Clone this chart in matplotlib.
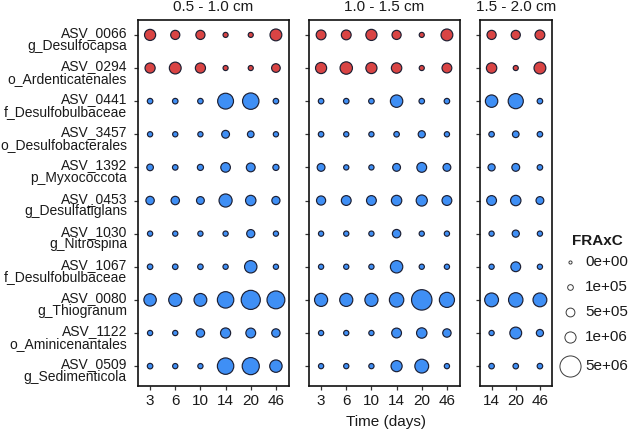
import matplotlib
matplotlib.use("Agg")
import matplotlib.pyplot as plt
import matplotlib.transforms as mtransforms
import numpy as np

plt.rcParams['font.family'] = ['Liberation Sans', 'DejaVu Sans']

# ---------------- data ----------------
asv_ids = ["ASV_0066", "ASV_0294", "ASV_0441", "ASV_3457", "ASV_1392", "ASV_0453",
           "ASV_1030", "ASV_1067", "ASV_0080", "ASV_1122", "ASV_0509"]
taxa = ["g_Desulfocapsa", "o_Ardenticatenales", "f_Desulfobulbaceae", "o_Desulfobacterales",
        "p_Myxococcota", "g_Desulfatiglans", "g_Nitrospina", "f_Desulfobulbaceae",
        "g_Thiogranum", "o_Aminicenantales", "g_Sedimenticola"]
group = ["red", "red", "blue", "blue", "blue", "blue", "blue", "blue", "blue", "blue", "blue"]

depths = ["0.5 - 1.0 cm", "1.0 - 1.5 cm", "1.5 - 2.0 cm"]
days_p1 = [3, 6, 10, 14, 20, 46]
days_p2 = [3, 6, 10, 14, 20, 46]
days_p3 = [14, 20, 46]

# FRAxC values, rows follow asv_ids, columns follow days
frac_p1 = [
    [9.9e5, 5.6e5, 5.6e5, 6e4, 6e4, 1.17e6],
    [7.6e5, 1.17e6, 7.6e5, 6e4, 6e4, 4.7e5],
    [9e4, 9e4, 9e4, 2.5e6, 2.73e6, 9e4],
    [7e4, 7e4, 7e4, 3.4e5, 1.9e5, 7e4],
    [1.9e5, 9e4, 1.4e5, 6.5e5, 5e5, 1.4e5],
    [4.3e5, 4.3e5, 3.4e5, 1.54e6, 8.2e5, 3.9e5],
    [7e4, 7e4, 7e4, 7e4, 3.9e5, 7e4],
    [9e4, 9e4, 9e4, 7e4, 1.33e6, 7e4],
    [1.33e6, 1.54e6, 1.45e6, 2.73e6, 3.95e6, 3.34e6],
    [7e4, 7e4, 4.3e5, 7.6e5, 6.9e5, 4.3e5],
    [9e4, 7e4, 7e4, 2.73e6, 3.02e6, 1.33e6],
]
frac_p2 = [
    [6.9e5, 6.9e5, 9.9e5, 5.6e5, 6e4, 1.17e6],
    [9.9e5, 1.33e6, 9.9e5, 8.2e5, 6e4, 6.9e5],
    [9e4, 9e4, 9e4, 1.33e6, 9e4, 9e4],
    [9e4, 7e4, 7e4, 9e4, 2.5e5, 7e4],
    [3.4e5, 7e4, 7e4, 3.4e5, 6.9e5, 3.4e5],
    [5.6e5, 6.9e5, 6.9e5, 8.2e5, 9.9e5, 6.9e5],
    [7e4, 7e4, 7e4, 4.3e5, 7e4, 7e4],
    [7e4, 7e4, 7e4, 1.33e6, 7e4, 7e4],
    [1.54e6, 1.54e6, 1.54e6, 1.97e6, 4.62e6, 2.22e6],
    [7e4, 7e4, 7e4, 6.9e5, 8.2e5, 4.3e5],
    [7e4, 7e4, 7e4, 9.9e5, 1.77e6, 7e4],
]
frac_p3 = [
    [5.6e5, 5.6e5, 6.9e5],
    [8.2e5, 6e4, 1.17e6],
    [1.33e6, 2.22e6, 9e4],
    [9e4, 1.9e5, 9e4],
    [2.5e5, 3.4e5, 9e4],
    [6.9e5, 8.2e5, 3.4e5],
    [7e4, 2.5e5, 7e4],
    [7e4, 6.9e5, 7e4],
    [1.77e6, 1.97e6, 1.77e6],
    [7e4, 1.17e6, 2.5e5],
    [9e4, 9e4, 9e4],
]
legend_breaks = [0, 1e5, 5e5, 1e6, 5e6]
legend_labels = ["0e+00", "1e+05", "5e+05", "1e+06", "5e+06"]

# ---------------- styling ----------------
W, H, DPI = 630, 433, 100
fill_colors = {"red": "#d94444", "blue": "#3f8ff5"}
edge_color = "#1c1f33"
text_color = "#1a1a1a"
EDGE_LW = 0.85  # pt


def size_scale(v):
    """area scale: outer diameter in px grows linearly with sqrt(value)"""
    d_px = 4.3 + 0.00805 * np.sqrt(np.asarray(v, dtype=float))
    d_pt = d_px * 72.0 / DPI - EDGE_LW
    return d_pt ** 2


fig = plt.figure(figsize=(W / DPI, H / DPI), dpi=DPI)

def px_rect(x0, x1, ytop, ybot):
    return [x0 / W, 1 - ybot / H, (x1 - x0) / W, (ybot - ytop) / H]

panel_px = [(137.5, 288.5), (308.5, 459.5), (479.5, 552)]
ytop, ybot = 20, 386
panels = [(days_p1, frac_p1), (days_p2, frac_p2), (days_p3, frac_p3)]

nrow = len(asv_ids)
for k, ((x0, x1), (days, frac), depth) in enumerate(zip(panel_px, panels, depths)):
    ax = fig.add_axes(px_rect(x0, x1, ytop, ybot))
    vals = np.array(frac)
    xs, ys, ss, cs = [], [], [], []
    for i in range(nrow):
        for j in range(len(days)):
            xs.append(j)
            ys.append(i)
            ss.append(size_scale(vals[i, j]))
            cs.append(fill_colors[group[i]])
    ax.scatter(xs, ys, s=ss, c=cs, edgecolors=edge_color, linewidths=EDGE_LW, zorder=3)
    ax.set_xlim(-0.5, len(days) - 0.5)
    ax.set_ylim(nrow - 1 + 0.6, -0.45)
    ax.set_xticks(range(len(days)))
    ax.set_xticklabels([str(d) for d in days], fontsize=11, color=text_color)
    ax.set_yticks(range(nrow))
    ax.set_yticklabels([])
    if k == 0:
        base = mtransforms.blended_transform_factory(ax.transAxes, ax.transData)
        shift = mtransforms.ScaledTranslation(-10.5 / DPI, -3.5 / DPI, fig.dpi_scale_trans)
        for i, (a, t) in enumerate(zip(asv_ids, taxa)):
            ax.text(0, i, f"{a}\n{t}", transform=base + shift, ha='right',
                    va='center_baseline', multialignment='right', fontsize=10,
                    color=text_color, linespacing=0.88)
    ax.tick_params(axis='both', direction='out', length=3, width=0.9, color='#333333')
    ax.tick_params(axis='x', pad=2.5)
    for sp in ax.spines.values():
        sp.set_linewidth(1.2)
        sp.set_color('#111111')
    ax.text(0.5, 1 + 12.5 / (ybot - ytop), depth, transform=ax.transAxes,
            ha='center', va='center', fontsize=11, color=text_color)

fig.text(386 / W, 1 - 422 / H, "Time (days)", ha='center', va='center',
         fontsize=11, color=text_color)

# ---------------- legend ----------------
lax = fig.add_axes([0, 0, 1, 1])
lax.set_xlim(0, W)
lax.set_ylim(H, 0)
lax.axis('off')
lax.text(572, 241, "FRAxC", fontsize=11, fontweight='bold', ha='left', va='center',
         color=text_color)
leg_y = [262, 287, 312, 337, 366]
for v, lab, y in zip(legend_breaks, legend_labels, leg_y):
    lax.scatter([569.5], [y], s=size_scale(v), facecolors='white', edgecolors='#3a3a3a',
                linewidths=0.7)
    lax.text(585, y, lab, fontsize=11, ha='left', va='center', color=text_color)

fig.savefig("out.png", dpi=DPI)
